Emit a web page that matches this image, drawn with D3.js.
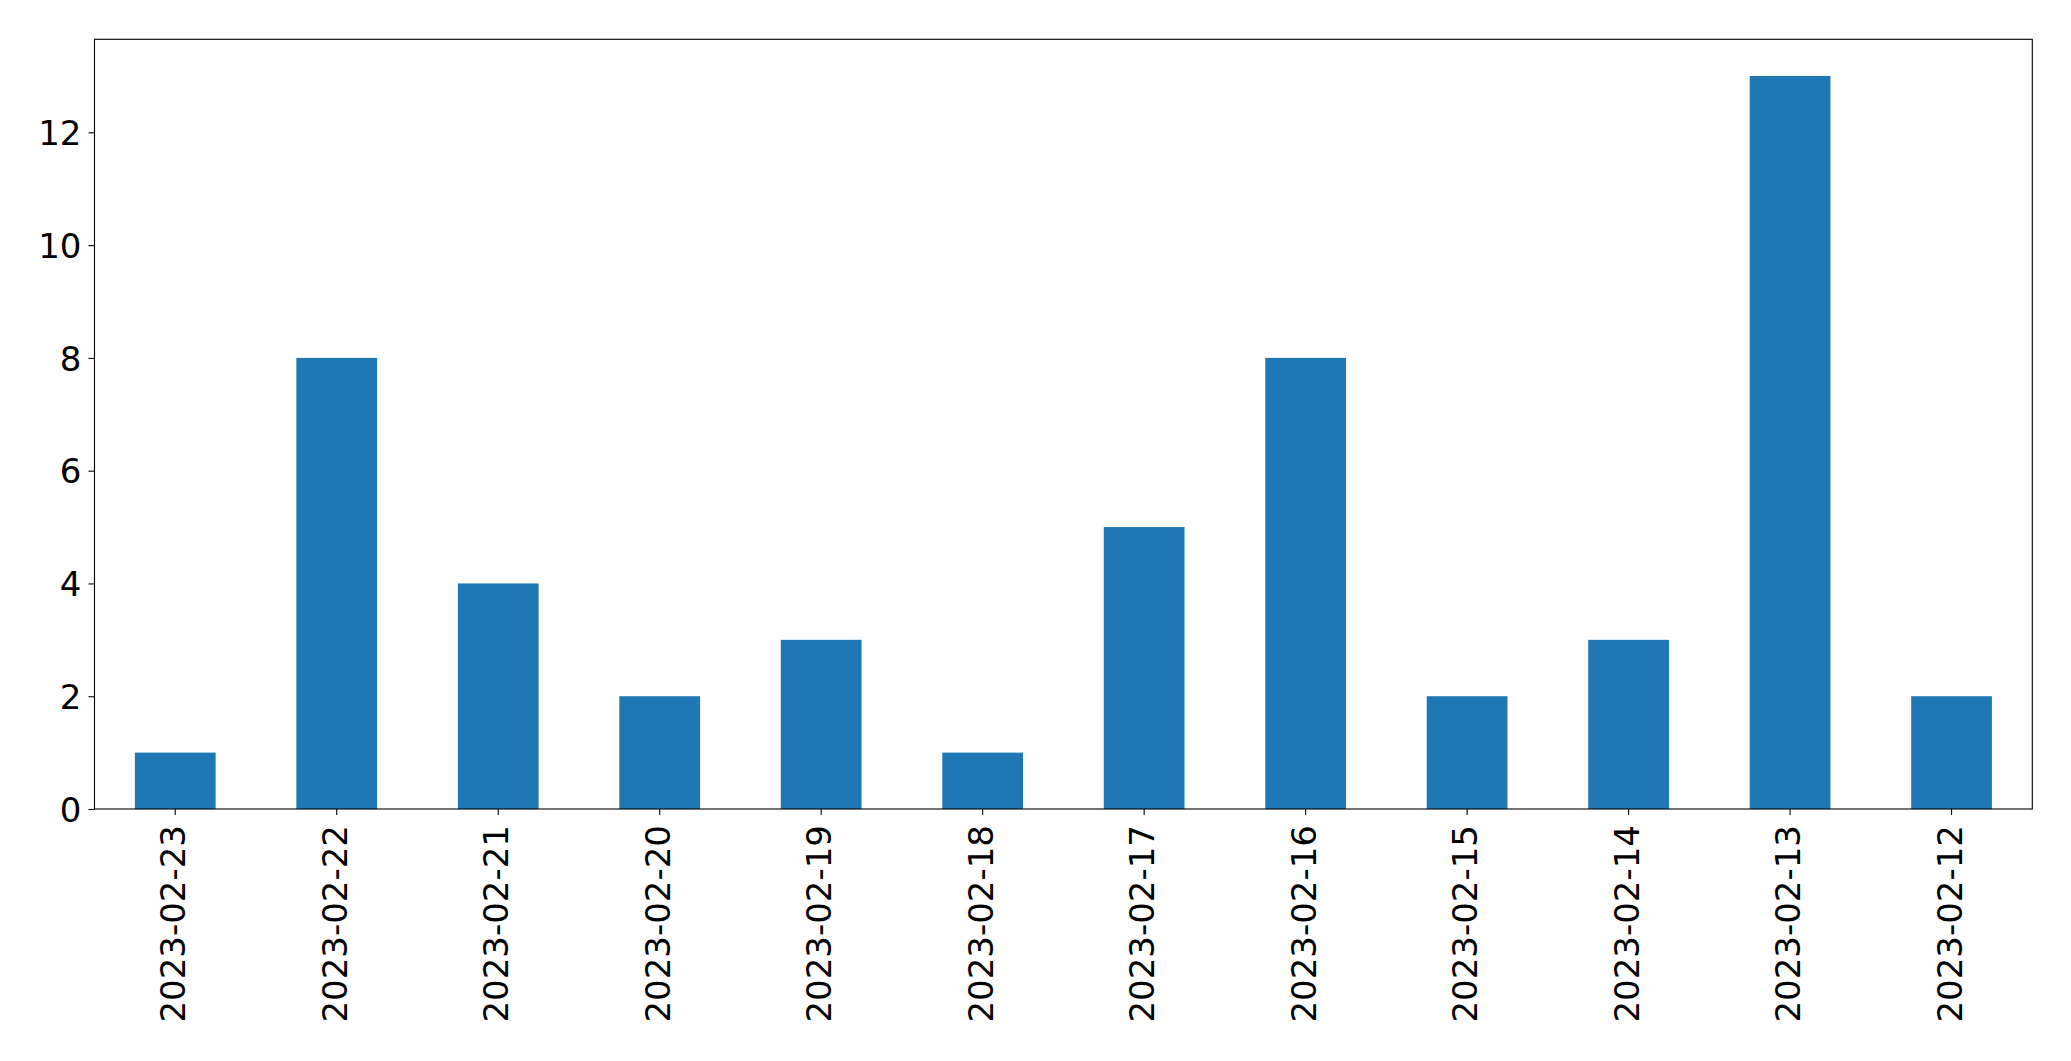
<!DOCTYPE html>
<html>
<head>
<meta charset="utf-8">
<script src="https://cdn.jsdelivr.net/npm/d3@7"></script>
<style>
  html, body { margin: 0; padding: 0; background: #fff; }
  svg { display: block; }
  text { font-family: "DejaVu Sans", sans-serif; fill: #000; }
</style>
</head>
<body>
<svg id="chart" width="2071" height="1061"></svg>
<script>
const categories = ["2023-02-23","2023-02-22","2023-02-21","2023-02-20","2023-02-19","2023-02-18","2023-02-17","2023-02-16","2023-02-15","2023-02-14","2023-02-13","2023-02-12"];
const values = [1, 8, 4, 2, 3, 1, 5, 8, 2, 3, 13, 2];
const yTicks = [0, 2, 4, 6, 8, 10, 12];

const W = 2071, H = 1061;
const margin = { left: 94.5, right: W - 2032.3, top: 39.3, bottom: H - 809 };
const svg = d3.select("#chart");
const iw = W - margin.left - margin.right;
const ih = H - margin.top - margin.bottom;
const g = svg.append("g").attr("transform", `translate(${margin.left},${margin.top})`);

const x = d3.scaleBand().domain(categories).range([0, iw]).paddingInner(0.5).paddingOuter(0.25);
const yMax = d3.max(values) * 1.05;
const y = d3.scaleLinear().domain([0, yMax]).range([ih, 0]);

g.selectAll("rect.bar").data(values).enter().append("rect")
  .attr("class", "bar")
  .attr("x", (d, i) => x(categories[i]))
  .attr("width", x.bandwidth())
  .attr("y", d => y(d))
  .attr("height", d => ih - y(d))
  .attr("fill", "#1f77b4");

const fs = 34;
// Y axis
const yAxis = d3.axisLeft(y).tickValues(yTicks).tickSize(6).tickPadding(7).tickFormat(d3.format("d"));
const ya = g.append("g").call(yAxis);
ya.select(".domain").remove();
ya.selectAll(".tick line").attr("stroke", "#000").attr("stroke-width", 1.1);
ya.selectAll(".tick text").attr("font-size", fs).attr("font-family", "DejaVu Sans").attr("dy", "0.36em");

// X axis
const xAxis = d3.axisBottom(x).tickSize(6).tickPadding(0);
const xa = g.append("g").attr("transform", `translate(0,${ih})`).call(xAxis);
xa.select(".domain").remove();
xa.selectAll(".tick line").attr("stroke", "#000").attr("stroke-width", 1.1);
xa.selectAll(".tick text")
  .attr("font-size", fs).attr("font-family", "DejaVu Sans")
  .attr("text-anchor", "end")
  .attr("transform", "translate(0,16) rotate(-90)")
  .attr("x", 0).attr("y", 0).attr("dy", "0.3em");

// Frame
g.append("rect").attr("x", 0).attr("y", 0).attr("width", iw).attr("height", ih)
  .attr("fill", "none").attr("stroke", "#000").attr("stroke-width", 1.1);
</script>
</body>
</html>
